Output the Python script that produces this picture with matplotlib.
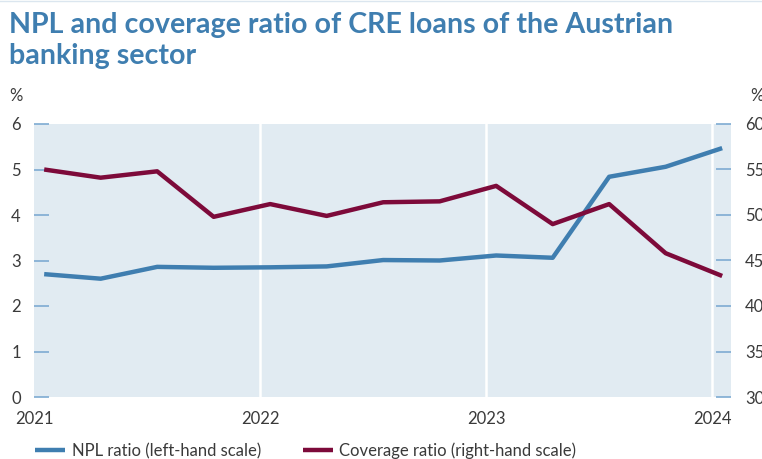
import matplotlib.pyplot as plt

# quarterly observations, Q1 2021 to Q1 2024
quarters = ["2021Q1", "2021Q2", "2021Q3", "2021Q4",
            "2022Q1", "2022Q2", "2022Q3", "2022Q4",
            "2023Q1", "2023Q2", "2023Q3", "2023Q4",
            "2024Q1"]
npl_ratio = [2.70, 2.60, 2.86, 2.84, 2.85, 2.87, 3.01, 3.00, 3.11, 3.06, 4.84, 5.06, 5.47]
coverage_ratio = [55.0, 54.1, 54.8, 49.8, 51.2, 49.9, 51.4, 51.5, 53.2, 49.0, 51.2, 45.8, 43.3]
year_ticks = [2021, 2022, 2023, 2024]

BLUE = "#3f7eb0"
RED = "#7d0a3a"
BG = "#e1ebf2"
TICK = "#7eabd2"
TXT = "#3a3a3a"

plt.rcParams["font.family"] = ["Lato", "DejaVu Sans"]

x = [int(q[:4]) + (int(q[-1]) - 1) * 0.25 + 0.045 for q in quarters]

fig = plt.figure(figsize=(7.62, 4.59), dpi=100)
ax = fig.add_axes([34 / 762, 1 - 397 / 459, 697 / 762, 273 / 459])
ax2 = ax.twinx()

ax.set_facecolor(BG)
for a in (ax, ax2):
    for s in a.spines.values():
        s.set_visible(False)

ax.set_xlim(2021, 2021 + 697 / 226)
ax.set_ylim(0, 6)
ax2.set_ylim(30, 60)

for yr in year_ticks[1:]:
    ax.axvline(yr, color="white", lw=1.8, zorder=1)

l1, = ax.plot(x, npl_ratio, color=BLUE, lw=3.2, solid_capstyle="butt", zorder=3,
              label="NPL ratio (left-hand scale)")
l2, = ax2.plot(x, coverage_ratio, color=RED, lw=3.2, solid_capstyle="butt", zorder=3,
               label="Coverage ratio (right-hand scale)")

ax.set_xticks(year_ticks)
ax.set_xticklabels([str(y) for y in year_ticks])
ax.tick_params(axis="x", length=0, pad=10, labelsize=12, labelcolor=TXT)
ax.set_yticks(range(0, 7))
ax.tick_params(axis="y", direction="in", length=11, width=1.2, color=TICK,
               pad=9.5, labelsize=12, labelcolor=TXT)
ax2.set_yticks(range(30, 61, 5))
ax2.tick_params(axis="y", direction="in", length=11, width=1.2, color=TICK,
                pad=10, labelsize=12, labelcolor=TXT)

fig.text(9 / 762, 1 - 33 / 459, "NPL and coverage ratio of CRE loans of the Austrian",
         fontsize=20.6, fontweight="bold", color=BLUE, va="baseline")
fig.text(9 / 762, 1 - 64 / 459, "banking sector",
         fontsize=20.6, fontweight="bold", color=BLUE, va="baseline")
fig.add_artist(plt.Line2D([0, 1], [1 - 0.5 / 459] * 2, color="#dbe6ef", lw=1))

fig.text(9 / 762, 1 - 101 / 459, "%", fontsize=12, color=TXT, va="baseline")
fig.text(750 / 762, 1 - 101 / 459, "%", fontsize=12, color=TXT, va="baseline")

fig.legend(handles=[l1, l2], loc="lower left", bbox_to_anchor=(35 / 762, 0.0),
           borderaxespad=0, borderpad=0, ncol=2, frameon=False, fontsize=12,
           labelcolor=TXT, handlelength=1.8, handletextpad=0.4, columnspacing=2.5)

fig.savefig("out.png", dpi=100)
